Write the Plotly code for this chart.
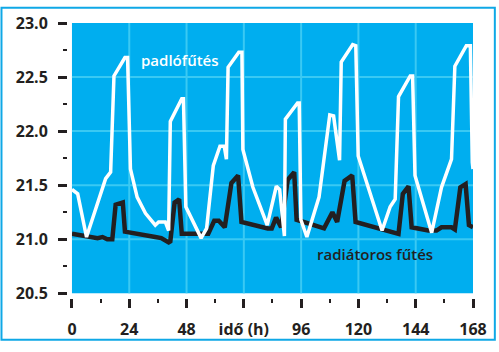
import plotly.graph_objects as go

# --- data -------------------------------------------------------------
floor_hours = [0, 2.4, 6.1, 14.1, 16.2, 17.6, 22.2, 23.3, 24.5, 27.3, 30.8, 34.9, 36.3, 39.1,
               40.5, 41.2, 46.0, 46.7, 47.7, 54.1, 56.4, 59.2, 62.0, 63.8, 64.7, 65.4, 69.9,
               71.2, 71.6, 75.8, 81.8, 85.6, 87.0, 89.0, 89.4, 94.5, 95.2, 95.9, 98.4, 103.5,
               108.0, 109.6, 112.1, 112.8, 117.6, 118.9, 119.9, 124.7, 129.9, 133.3, 135.4,
               136.8, 141.7, 142.7, 143.7, 150.7, 154.8, 159.0, 160.4, 165.2, 166.9, 167.7, 168]
floor_temp = [21.46, 21.42, 21.02, 21.56, 21.62, 22.51, 22.68, 22.68, 21.65, 21.39, 21.24, 21.13,
              21.16, 21.16, 21.08, 22.09, 22.30, 22.30, 21.30, 21.01, 21.10, 21.68, 21.86, 21.86,
              21.74, 22.59, 22.73, 22.73, 21.83, 21.48, 21.13, 21.49, 21.46, 21.03, 22.11, 22.26,
              22.26, 21.18, 21.02, 21.39, 22.15, 22.14, 21.73, 22.64, 22.80, 22.79, 21.77, 21.43,
              21.08, 21.30, 21.37, 22.32, 22.51, 22.51, 21.59, 21.06, 21.48, 21.74, 22.60, 22.79,
              22.79, 21.71, 21.65]

rad_hours = [0, 10.7, 12.8, 14.8, 16.9, 18.3, 21.3, 22.2, 34.9, 37.4, 40.5, 41.2, 43.0, 44.9,
             46.0, 57.1, 59.6, 61.5, 64.0, 66.8, 69.6, 71.0, 82.0, 83.7, 85.5, 87.6, 90.4, 93.1,
             94.1, 101.5, 105.6, 109.1, 111.1, 114.2, 117.4, 118.8, 136.8, 138.6, 141.0, 142.3,
             149.3, 152.7, 154.8, 159.0, 160.4, 162.7, 164.9, 166.3, 168]
rad_temp = [21.05, 21.01, 21.02, 21.00, 21.00, 21.32, 21.34, 21.07, 21.02, 21.01, 20.97, 20.98,
            21.34, 21.37, 21.05, 21.05, 21.17, 21.17, 21.11, 21.52, 21.59, 21.16, 21.10, 21.10,
            21.20, 21.11, 21.55, 21.62, 21.18, 21.13, 21.10, 21.25, 21.16, 21.54, 21.59, 21.16,
            21.05, 21.42, 21.49, 21.11, 21.08, 21.08, 21.11, 21.11, 21.09, 21.48, 21.51, 21.13, 21.11]

x_tickvals = [0, 24, 48, 72, 96, 120, 144, 168]
x_ticktext = ["0", "24", "48", "idő (h)", "96", "120", "144", "168"]
x_minor = [12, 36, 60, 84, 108, 132, 156]
x_grid = [24, 48, 72, 96, 120, 144]

y_tickvals = [20.5, 21.0, 21.5, 22.0, 22.5, 23.0]
y_ticktext = ["20.5", "21.0", "21.5", "22.0", "22.5", "23.0"]
y_minor = [20.75, 21.25, 21.75, 22.25, 22.75]
y_grid = [21.0, 21.5, 22.0, 22.5]

label_floor = "padlófűtés"
label_rad = "radiátoros fűtés"

# --- style ------------------------------------------------------------
W, H = 499, 352
ML, MR, MT, MB = 67, 23, 17, 45
PW, PH = W - ML - MR, H - MT - MB
GAP = 5
DARK = "#231F20"
BG = "#00AEEF"
GRID = "#3AC9F3"
tickfont = dict(family="Open Sans", size=16, color=DARK, weight=700)

fig = go.Figure()
fig.add_trace(go.Scatter(x=rad_hours, y=rad_temp, mode="lines",
                         line=dict(color=DARK, width=4.5), showlegend=False, hoverinfo="skip"))
fig.add_trace(go.Scatter(x=floor_hours, y=floor_temp, mode="lines",
                         line=dict(color="white", width=3.5), showlegend=False, hoverinfo="skip"))

grid_shapes = []
for gx in x_grid:
    grid_shapes.append(dict(type="line", xref="x", yref="y domain", x0=gx, x1=gx, y0=0, y1=1,
                            line=dict(color=GRID, width=2), layer="below"))
for gy in y_grid:
    grid_shapes.append(dict(type="line", xref="x domain", yref="y", x0=0, x1=1, y0=gy, y1=gy,
                            line=dict(color=GRID, width=2), layer="below"))

border = dict(type="rect", xref="paper", yref="paper",
              x0=(1 - ML) / PW, x1=(W - 1 - ML) / PW,
              y0=(PH + MT - (H - 1)) / PH, y1=(PH + MT - 1) / PH,
              line=dict(color="#0FA8E6", width=2), fillcolor="rgba(0,0,0,0)")

fig.update_layout(
    width=W, height=H,
    margin=dict(l=ML, r=MR, t=MT, b=MB, pad=0),
    paper_bgcolor="white", plot_bgcolor=BG,
    xaxis=dict(range=[0, 168], domain=[GAP / PW, 1], anchor="free", position=0,
               tickmode="array", tickvals=x_tickvals, ticktext=x_ticktext,
               ticks="outside", ticklen=9, tickwidth=3, tickcolor=DARK,
               minor=dict(tickmode="array", tickvals=x_minor, ticks="outside", ticklen=4,
                          tickwidth=2, tickcolor=DARK, showgrid=False),
               showgrid=False, zeroline=False, showline=False, tickfont=tickfont,
               ticklabelstandoff=8),
    yaxis=dict(range=[20.5, 23.0], domain=[GAP / PH, 1], anchor="free", position=0,
               tickmode="array", tickvals=y_tickvals, ticktext=y_ticktext,
               ticks="outside", ticklen=9, tickwidth=3, tickcolor=DARK,
               minor=dict(tickmode="array", tickvals=y_minor, ticks="outside", ticklen=4,
                          tickwidth=2, tickcolor=DARK, showgrid=False),
               showgrid=False, zeroline=False, showline=False, tickfont=tickfont,
               ticklabelstandoff=7),
    annotations=[
        dict(x=45.3, y=22.66, xref="x", yref="y", text=label_floor, showarrow=False,
             font=dict(family="Open Sans", size=15, color="white", weight=600)),
        dict(x=127, y=20.86, xref="x", yref="y", text=label_rad, showarrow=False,
             font=dict(family="Open Sans", size=15, color=DARK, weight=600)),
    ],
    shapes=grid_shapes + [border],
)

fig.write_html("out.html")
